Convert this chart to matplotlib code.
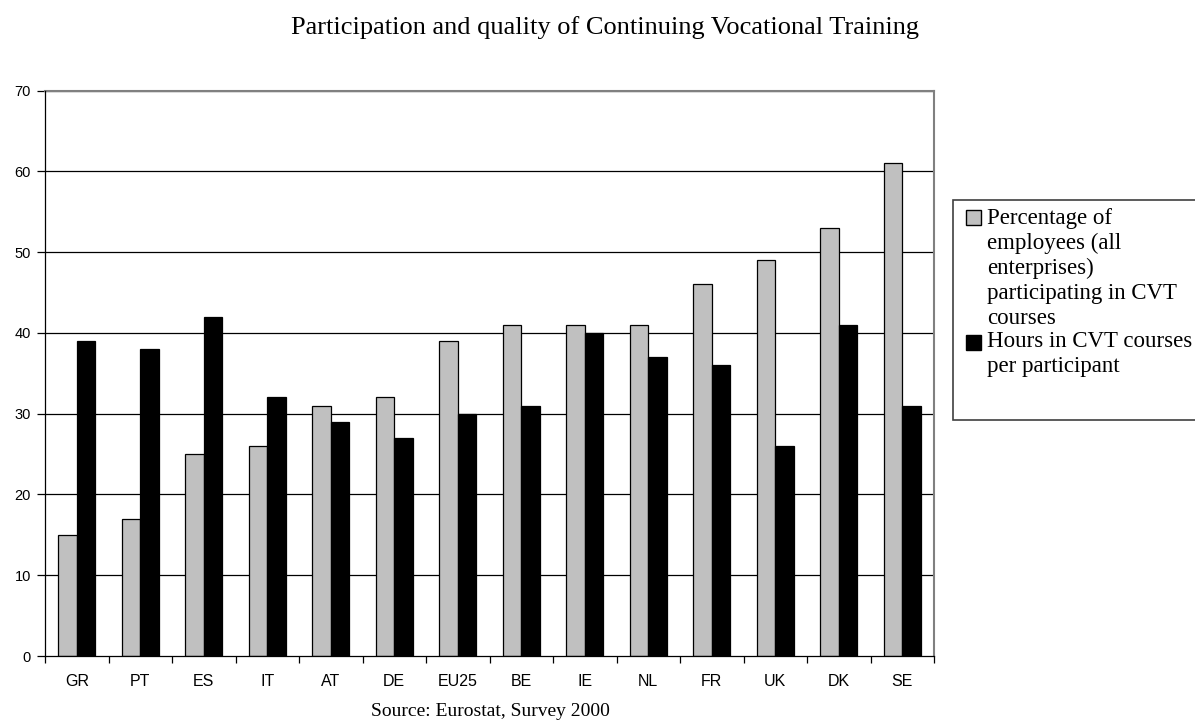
import numpy as np
import matplotlib
matplotlib.use('Agg')
import matplotlib.pyplot as plt
from matplotlib.patches import Rectangle

# data
countries = ['GR', 'PT', 'ES', 'IT', 'AT', 'DE', 'EU25', 'BE', 'IE', 'NL', 'FR', 'UK', 'DK', 'SE']
pct_participating = [15, 17, 25, 26, 31, 32, 39, 41, 41, 41, 46, 49, 53, 61]
hours_per_participant = [39, 38, 42, 32, 29, 27, 30, 31, 40, 37, 36, 26, 41, 31]
legend_labels = ['Percentage of\nemployees (all\nenterprises)\nparticipating in CVT\ncourses',
                 'Hours in CVT courses\nper participant']
y_ticks = [0, 10, 20, 30, 40, 50, 60, 70]

W, H = 1195, 720
serif = 'Liberation Serif'
sans = 'Liberation Sans'

fig = plt.figure(figsize=(W / 100, H / 100), dpi=100)
ax = fig.add_axes([45 / W, 1 - 656 / H, (934 - 45) / W, (656 - 90.5) / H])

x = np.arange(len(countries))
bw = 0.29
ax.bar(x - bw / 2, pct_participating, bw, color='#c0c0c0', edgecolor='black', linewidth=0.9, zorder=3)
ax.bar(x + bw / 2, hours_per_participant, bw, color='black', edgecolor='black', linewidth=0.9, zorder=3)

ax.set_xlim(-0.5, len(countries) - 0.5)
ax.set_ylim(0, 70)
ax.set_yticks(y_ticks)
ax.set_yticklabels([str(t) for t in y_ticks], fontfamily=sans, fontsize=10.5)
ax.set_xticks(x)
ax.set_xticklabels(countries, fontfamily=sans, fontsize=11.5)
ax.set_xticks(np.arange(-0.5, len(countries)), minor=True)
ax.tick_params(axis='x', which='major', length=0, pad=13)
ax.tick_params(axis='x', which='minor', length=5, direction='out', color='black', width=0.9)
ax.tick_params(axis='y', length=6, direction='out', width=0.9, pad=4)

for t in y_ticks[1:]:
    ax.axhline(t, color='black', linewidth=0.9, zorder=1)

for s in ['top', 'right']:
    ax.spines[s].set_color('#808080')
    ax.spines[s].set_linewidth(1.5)
for s in ['left', 'bottom']:
    ax.spines[s].set_color('black')
    ax.spines[s].set_linewidth(0.9)
    ax.spines[s].set_zorder(4)

fig.text(605 / W, 1 - 34 / H, 'Participation and quality of Continuing Vocational Training',
         ha='center', va='baseline', fontfamily=serif, fontsize=19)
fig.text(490 / W, 1 - 716 / H, 'Source: Eurostat, Survey 2000',
         ha='center', va='baseline', fontfamily=serif, fontsize=14)

# legend box drawn by hand so the markers sit on the first line of each entry
fig.patches.append(Rectangle((953 / W, 1 - 420 / H), (W + 5 - 953) / W, 220 / H,
                             transform=fig.transFigure, facecolor='white',
                             edgecolor='#404040', linewidth=1.2))
colors = ['#c0c0c0', 'black']
tops = [210, 335]
text_tops = [208, 331]
for lab, c, top, tt in zip(legend_labels, colors, tops, text_tops):
    fig.patches.append(Rectangle((966 / W, 1 - (top + 15) / H), 15 / W, 15 / H,
                                 transform=fig.transFigure, facecolor=c,
                                 edgecolor='black', linewidth=1.0))
    fig.text(987 / W, 1 - tt / H, lab, ha='left', va='top',
             fontfamily=serif, fontsize=16.5, linespacing=1.25)

fig.savefig('out.png', dpi=100)
